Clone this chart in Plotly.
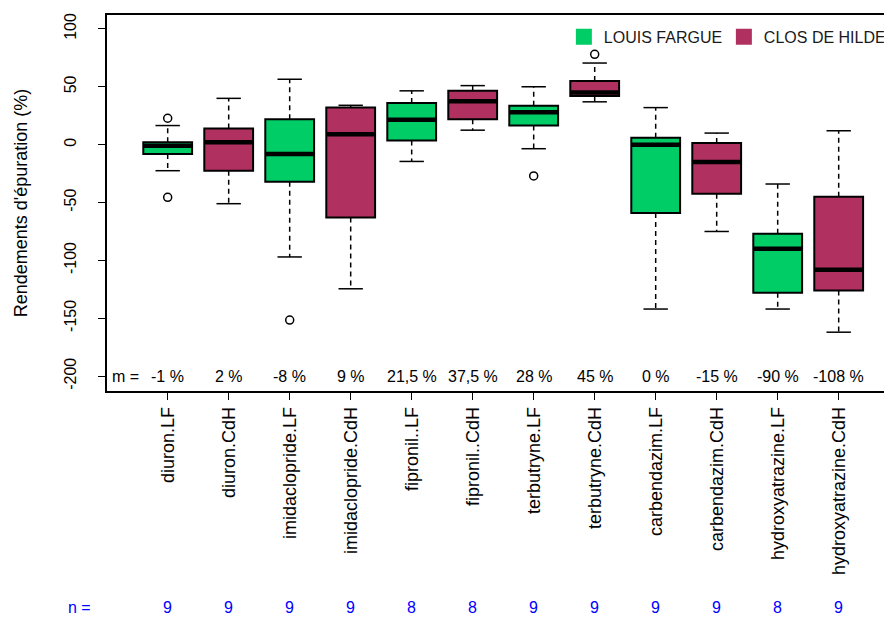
import plotly.graph_objects as go

# ---- data (12 boxes, alternating sites) ----
labels = ["diuron.LF", "diuron.CdH", "imidaclopride.LF", "imidaclopride.CdH",
          "fipronil..LF", "fipronil..CdH", "terbutryne.LF", "terbutryne.CdH",
          "carbendazim.LF", "carbendazim.CdH", "hydroxyatrazine.LF", "hydroxyatrazine.CdH"]
site = ["LF", "CdH"] * 6
lower_whisker = [-22.5, -51, -97, -124.5, -14.5, 12.5, -3.5, 37, -142, -75, -142, -162]
q1 = [-8, -22.5, -32, -63, 3.5, 22, 16.5, 42, -59, -42.5, -128, -126]
median = [-1, 2, -8, 9, 21.5, 37.5, 28, 45, 0, -15, -90, -108]
q3 = [2, 14, 22, 32, 36, 46.5, 33.5, 55, 6, 1.5, -77, -45]
upper_whisker = [16.5, 40, 56.5, 34, 46.5, 51, 50, 70.5, 32, 10, -34, 12]
outliers = [[22.8, -45.5], [], [-151.5], [], [], [], [-27], [78], [], [], [], []]
m_labels = ["-1 %", "2 %", "-8 %", "9 %", "21,5 %", "37,5 %", "28 %", "45 %",
            "0 %", "-15 %", "-90 %", "-108 %"]
n_counts = [9, 9, 9, 9, 8, 8, 9, 9, 9, 9, 8, 9]
y_ticks = [-200, -150, -100, -50, 0, 50, 100]

site_names = {"LF": "LOUIS FARGUE", "CdH": "CLOS DE HILDE"}
site_colors = {"LF": "#00CD66", "CdH": "#B03060"}

FONT = "Liberation Sans, Arial, sans-serif"
pos = list(range(1, len(labels) + 1))
BOXW = 0.8
CAPW = 0.4

fig = go.Figure()

# boxes
for s in ["LF", "CdH"]:
    idx = [i for i in range(len(labels)) if site[i] == s]
    fig.add_trace(go.Box(
        x=[pos[i] for i in idx],
        q1=[q1[i] for i in idx], median=[median[i] for i in idx], q3=[q3[i] for i in idx],
        lowerfence=[q1[i] for i in idx], upperfence=[q3[i] for i in idx],
        width=BOXW, fillcolor=site_colors[s], line=dict(color="black", width=2),
        whiskerwidth=0, showlegend=False, hoverinfo="skip", boxpoints=False))

# dashed whiskers
wx, wy = [], []
for i in range(len(labels)):
    wx += [pos[i], pos[i], None, pos[i], pos[i], None]
    wy += [q3[i], upper_whisker[i], None, q1[i], lower_whisker[i], None]
fig.add_trace(go.Scatter(x=wx, y=wy, mode="lines", showlegend=False, hoverinfo="skip",
                         line=dict(color="black", width=1.5, dash="5px,4px")))
# caps
cx, cy = [], []
for i in range(len(labels)):
    for v in (upper_whisker[i], lower_whisker[i]):
        cx += [pos[i] - CAPW / 2, pos[i] + CAPW / 2, None]
        cy += [v, v, None]
fig.add_trace(go.Scatter(x=cx, y=cy, mode="lines", showlegend=False, hoverinfo="skip",
                         line=dict(color="black", width=1.5)))
# thick medians
mx, my = [], []
for i in range(len(labels)):
    mx += [pos[i] - BOXW / 2, pos[i] + BOXW / 2, None]
    my += [median[i], median[i], None]
fig.add_trace(go.Scatter(x=mx, y=my, mode="lines", showlegend=False, hoverinfo="skip",
                         line=dict(color="black", width=4.5)))
# outliers
ox, oy = [], []
for i in range(len(labels)):
    for v in outliers[i]:
        ox.append(pos[i]); oy.append(v)
fig.add_trace(go.Scatter(x=ox, y=oy, mode="markers", showlegend=False, hoverinfo="skip",
                         marker=dict(symbol="circle-open", size=8, color="black",
                                     line=dict(width=1.5, color="black"))))

# legend entries
for s in ["LF", "CdH"]:
    fig.add_trace(go.Scatter(x=[None], y=[None], mode="markers", name=site_names[s],
                             marker=dict(symbol="square", size=19, color=site_colors[s])))

# m = row
fig.add_annotation(x=0.004, xref="paper", y=-200, yref="y", text="m =", showarrow=False,
                   xanchor="left", yanchor="middle", font=dict(size=16, color="black", family=FONT))
for i in range(len(labels)):
    fig.add_annotation(x=pos[i], y=-200, text=m_labels[i], showarrow=False,
                       xanchor="center", yanchor="middle",
                       font=dict(size=16, color="black", family=FONT))
# n = row
fig.add_annotation(x=-0.052, xref="paper", y=-0.603, yref="paper", text="n =", showarrow=False,
                   xanchor="left", font=dict(size=16, color="#0000FF", family=FONT))
for i in range(len(labels)):
    fig.add_annotation(x=pos[i], xref="x", y=-0.603, yref="paper", text=str(n_counts[i]),
                       showarrow=False, font=dict(size=16, color="#0000FF", family=FONT))

# the page body adds an 8px margin, so the figure is 8px smaller than the window
fig.update_layout(
    width=884, height=613,
    margin=dict(l=99, r=0, t=7, b=230, autoexpand=False),
    paper_bgcolor="white", plot_bgcolor="white",
    boxmode="overlay",
    font=dict(family=FONT, size=16, color="black"),
    legend=dict(orientation="h", x=0.582, y=0.987, xanchor="left", yanchor="top",
                font=dict(size=16, color="#1a1a1a"), bgcolor="rgba(0,0,0,0)",
                itemwidth=30, tracegroupgap=0, entrywidth=115, entrywidthmode="pixels"),
    xaxis=dict(range=[0.005, 12.874], tickmode="array", tickvals=pos, ticktext=labels,
               tickangle=-90, ticks="outside", ticklen=7, tickwidth=1.2, tickcolor="black",
               showline=True, linecolor="black", linewidth=1.5, mirror=True, automargin=False,
               showgrid=False, zeroline=False, tickfont=dict(size=18, family=FONT)),
    yaxis=dict(range=[-212.8, 112], tickmode="array", tickvals=y_ticks,
               ticktext=[str(v) for v in y_ticks], tickangle=-90,
               ticks="outside", ticklen=7, tickwidth=1.2, tickcolor="black",
               showline=True, linecolor="black", linewidth=1.5, mirror=False, automargin=False,
               showgrid=False, zeroline=False, ticklabelstandoff=16,
               tickfont=dict(size=16, family=FONT),
               title=dict(text="Rendements d'épuration (%)", standoff=30,
                          font=dict(size=18, family=FONT))),
)

fig.write_html("out.html")
